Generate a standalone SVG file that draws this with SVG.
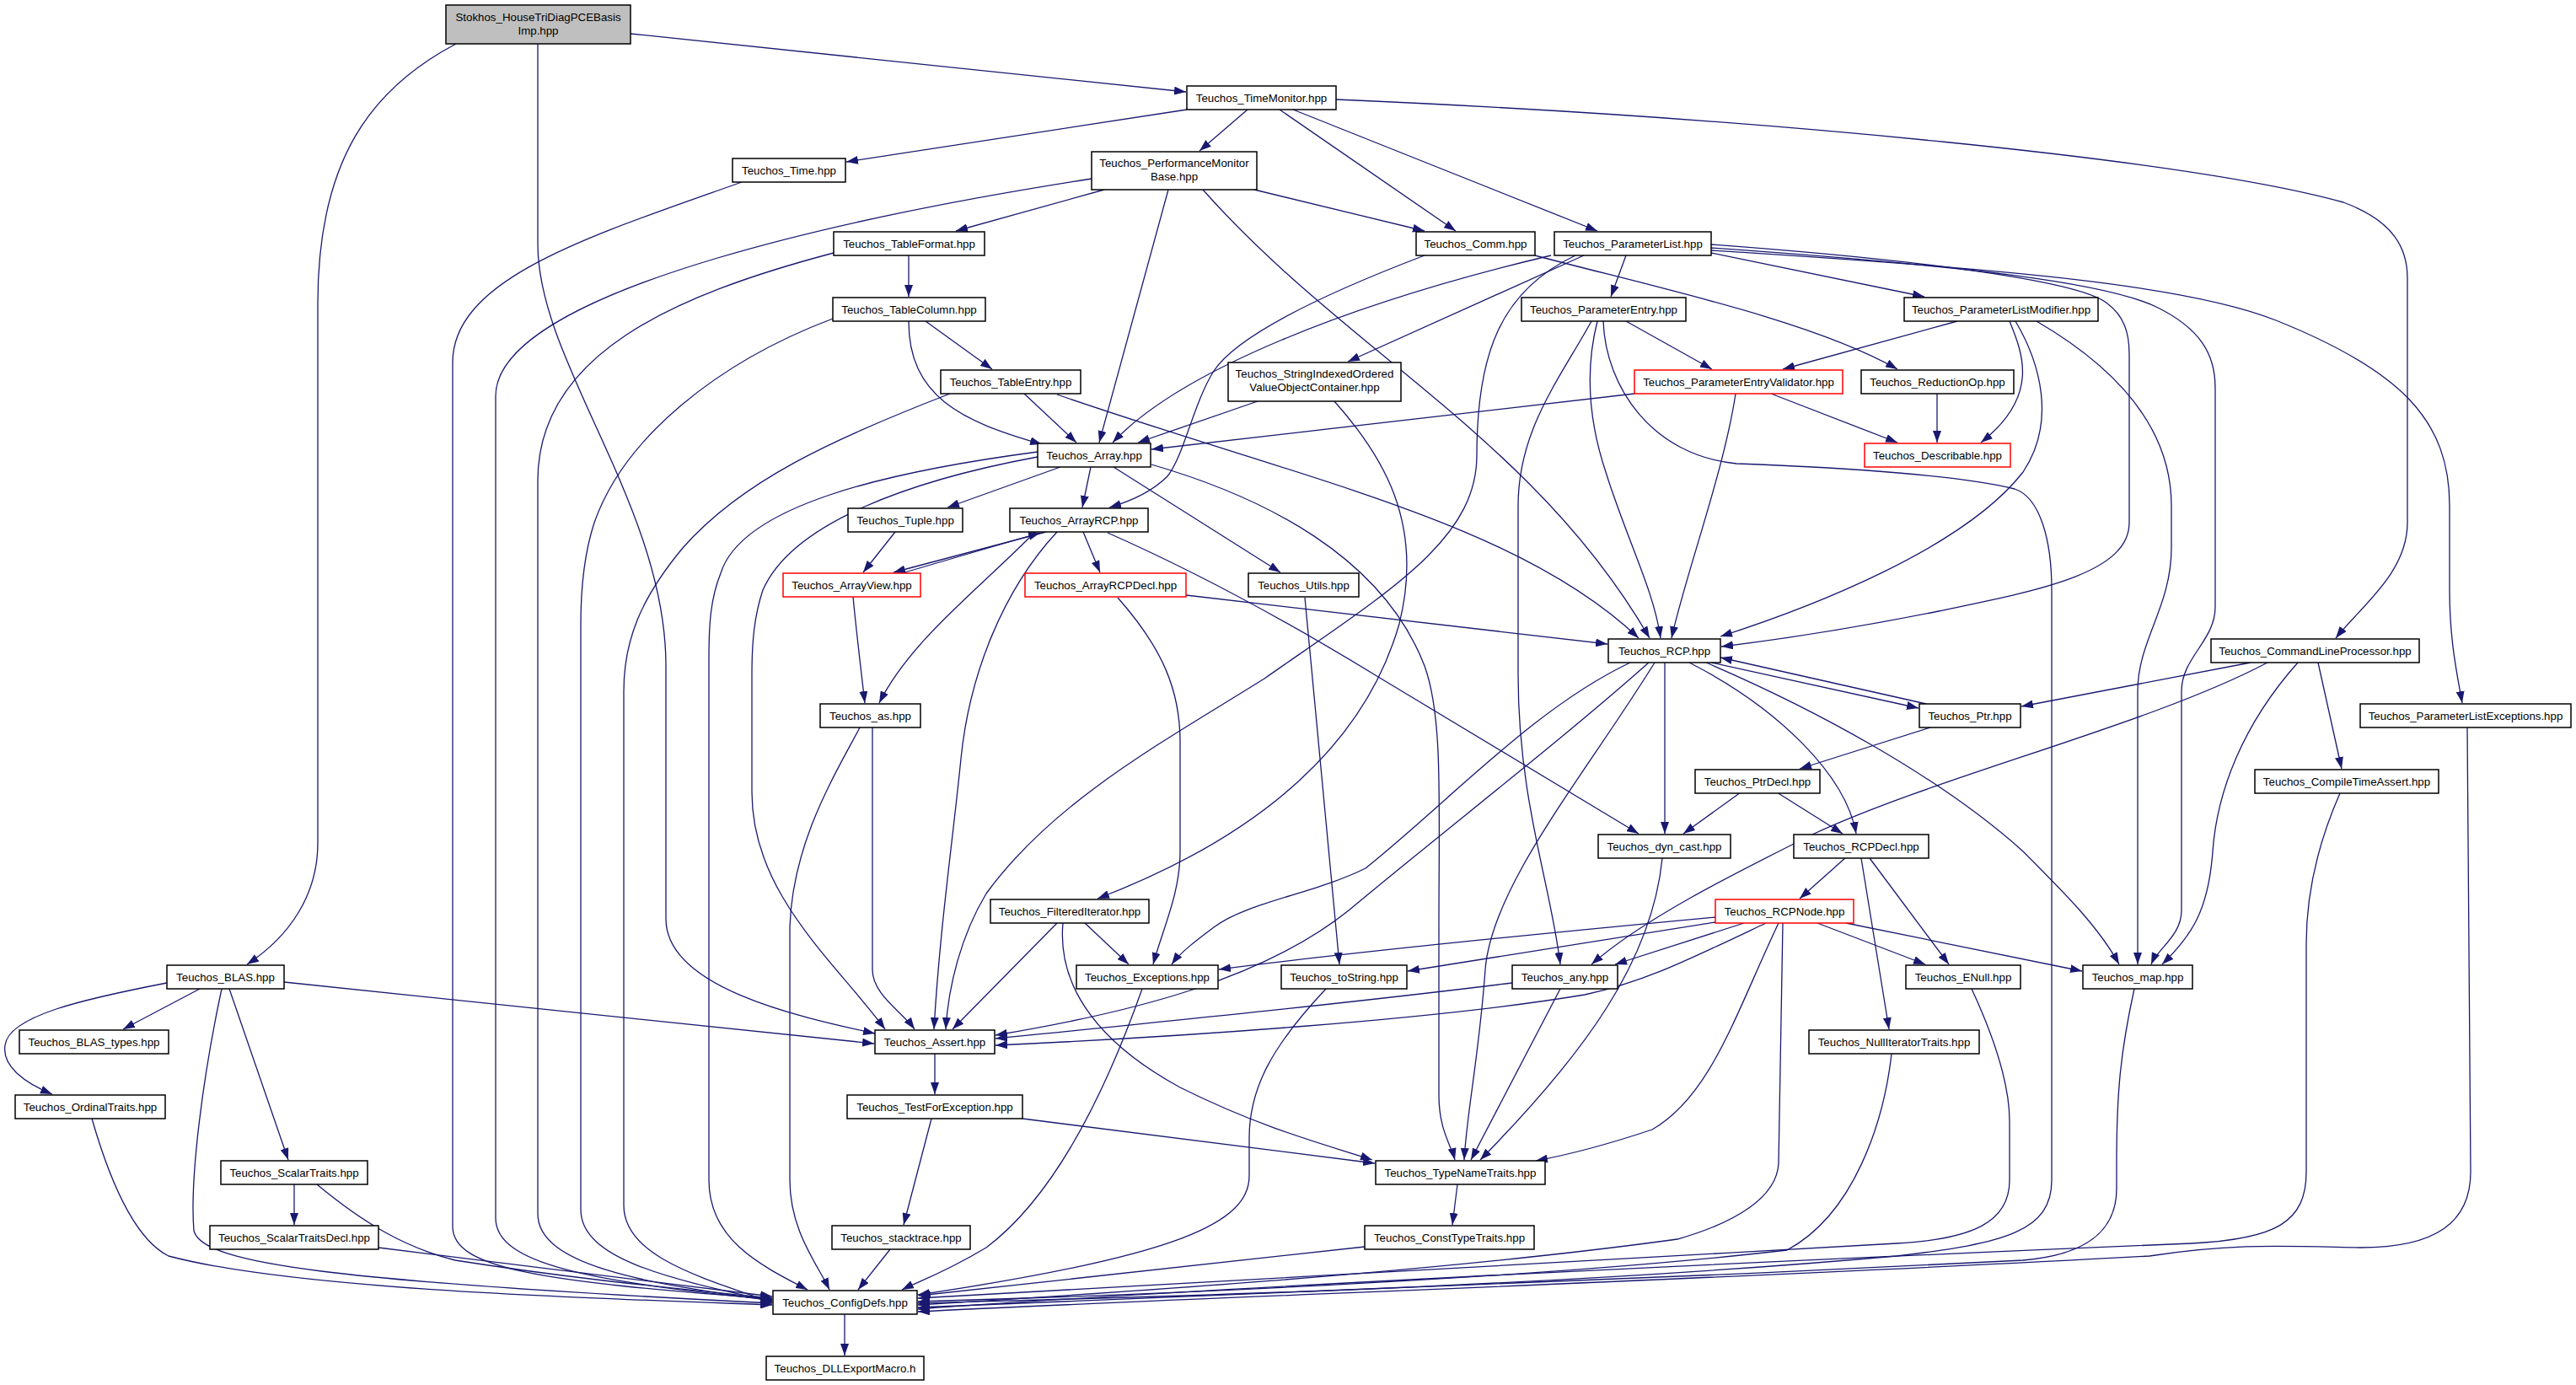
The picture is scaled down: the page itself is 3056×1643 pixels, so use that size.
<svg xmlns="http://www.w3.org/2000/svg" width="3056" height="1643" viewBox="0 0 3056 1643">
<style>
.n rect{fill:#fff;stroke:#000;stroke-width:1.5}
.n.r rect{stroke:#f00}
.n.g rect{fill:#bfbfbf}
text{font-family:"Liberation Sans",Arial,sans-serif;font-size:13.3px;text-anchor:middle;fill:#000}
.e path{fill:none;stroke:#191970;stroke-width:1.3;marker-end:url(#a)}
</style>
<defs>
<marker id="a" markerWidth="14" markerHeight="10" refX="14" refY="5" orient="auto" markerUnits="userSpaceOnUse"><path d="M0,0 L14,5 L0,10 z" fill="#191970"/></marker>
</defs>
<rect x="0" y="0" width="3056" height="1643" fill="#fff"/>
<g id="edges" class="e">
<path d="M748,40 L1407,109"/>
<path d="M541,52 C440,105 377,190 377,360 L377,1000 C377,1060 345,1110 293,1144"/>
<path d="M638,52 L638,290 C638,430 790,600 790,790 L790,1090 C790,1170 940,1205 1038,1226"/>
<path d="M1408,130 L1004,192"/>
<path d="M1480,130 L1423,179"/>
<path d="M1518,130 L1727,274"/>
<path d="M1534,130 L1895,274"/>
<path d="M1585,118 C2100,140 2600,190 2780,240 C2840,262 2856,295 2856,330 L2856,620 C2856,680 2800,720 2771,757"/>
<path d="M880,216 C700,280 537,330 537,430 L537,1455 C537,1505 640,1520 916,1541"/>
<path d="M1295,212 C1050,250 588,340 588,470 L588,1445 C588,1500 700,1520 916,1542"/>
<path d="M1310,225 L1134,274"/>
<path d="M1386,225 L1304,525"/>
<path d="M1427,225 C1600,420 1820,520 1957,757"/>
<path d="M1488,225 L1690,274"/>
<path d="M989,300 C800,350 638,420 638,570 L638,1440 C638,1500 760,1522 916,1543"/>
<path d="M1078,303 L1078,352"/>
<path d="M988,378 C850,430 740,520 705,620 C692,660 689,700 689,740 L689,1435 C689,1495 800,1518 916,1544"/>
<path d="M1098,381 L1177,438"/>
<path d="M1078,381 C1078,470 1140,500 1236,527"/>
<path d="M1127,467 C990,520 880,570 810,650 C760,710 740,760 740,820 L740,1430 C740,1490 830,1515 916,1545"/>
<path d="M1215,467 L1277,525"/>
<path d="M1254,468 C1550,570 1800,620 1944,757"/>
<path d="M1690,303 C1580,345 1470,395 1440,440 C1415,480 1405,540 1385,565 C1365,585 1340,595 1316,602"/>
<path d="M1821,303 C1960,340 2150,380 2251,438"/>
<path d="M1929,303 L1911,352"/>
<path d="M2030,300 L2283,352"/>
<path d="M1879,303 L1599,429"/>
<path d="M1840,303 C1600,360 1400,440 1320,525"/>
<path d="M1869,303 C1780,345 1752,420 1752,540 C1752,640 1650,700 1500,805 C1380,880 1250,950 1170,1060 C1140,1110 1125,1170 1122,1221"/>
<path d="M2030,290 C2300,310 2470,335 2500,360 C2520,375 2526,395 2526,420 L2526,620 C2526,680 2420,700 2300,725 C2200,745 2100,760 2042,767"/>
<path d="M2030,294 C2330,315 2500,335 2560,365 C2610,390 2628,420 2628,460 L2628,720 C2628,760 2588,780 2588,820 L2588,1080 C2588,1110 2560,1125 2552,1144"/>
<path d="M2030,297 C2400,320 2600,340 2700,380 C2850,440 2906,500 2906,600 L2906,700 C2906,760 2915,800 2921,834"/>
<path d="M1888,381 C1850,450 1801,510 1801,600 L1801,800 C1801,950 1840,1050 1851,1144"/>
<path d="M1895,381 C1880,440 1885,500 1905,560 C1930,640 1962,700 1970,757"/>
<path d="M1902,381 C1905,460 1960,540 2060,550 C2200,555 2330,565 2390,580 C2420,590 2434,640 2434,700 L2434,1400 C2434,1460 2380,1475 2250,1490 C1800,1530 1300,1540 1089,1546"/>
<path d="M1929,381 L2031,438"/>
<path d="M2322,381 L2115,438"/>
<path d="M2384,381 C2400,420 2420,470 2350,525"/>
<path d="M2391,381 C2420,430 2440,500 2400,560 C2330,650 2150,720 2041,755"/>
<path d="M2416,381 C2500,430 2576,500 2576,600 L2576,650 C2576,720 2536,760 2536,820 L2536,1144"/>
<path d="M1492,476 L1350,525"/>
<path d="M1583,476 C1640,540 1690,620 1660,740 C1620,880 1500,990 1302,1066"/>
<path d="M1939,467 L1366,533"/>
<path d="M2101,467 L2251,525"/>
<path d="M2059,467 C2045,560 2000,680 1983,757"/>
<path d="M2298,467 L2298,525"/>
<path d="M1258,554 L1124,602"/>
<path d="M1294,554 L1284,602"/>
<path d="M1321,554 L1519,679"/>
<path d="M1366,551 C1500,590 1640,660 1690,790 C1712,850 1707,950 1707,1100 L1707,1300 C1707,1340 1722,1360 1726,1376"/>
<path d="M1231,536 C1050,560 880,600 855,680 C843,710 841,740 841,780 L841,1400 C841,1470 900,1500 958,1530"/>
<path d="M1231,542 C1080,570 940,620 905,700 C895,730 892,760 892,800 L892,940 C892,1060 990,1140 1050,1221"/>
<path d="M1062,631 L1024,679"/>
<path d="M1241,631 L1060,679"/>
<path d="M1070,680 L1234,632"/>
<path d="M1012,708 C1016,750 1022,800 1026,834"/>
<path d="M1228,631 C1160,700 1080,760 1043,834"/>
<path d="M1285,631 L1305,679"/>
<path d="M1254,631 C1190,700 1150,800 1140,900 C1130,1000 1115,1100 1108,1221"/>
<path d="M1314,632 C1400,670 1500,720 1640,806 L1944,989"/>
<path d="M1407,706 L1907,764"/>
<path d="M1326,709 C1380,770 1400,820 1400,880 L1400,1010 C1400,1060 1380,1100 1368,1144"/>
<path d="M1548,709 L1589,1144"/>
<path d="M1020,863 C990,920 940,1000 937,1100 L937,1400 C937,1460 970,1500 984,1530"/>
<path d="M1035,863 L1035,1150 C1035,1180 1070,1200 1085,1221"/>
<path d="M2030,786 L2276,840"/>
<path d="M2285,835 L2041,780"/>
<path d="M1975,786 L1975,989"/>
<path d="M2004,786 C2110,840 2190,920 2202,989"/>
<path d="M2024,786 C2150,840 2300,920 2400,1010 C2450,1060 2490,1100 2514,1144"/>
<path d="M1934,786 C1820,840 1720,950 1620,1030 C1560,1060 1480,1070 1440,1100 C1420,1115 1400,1130 1390,1144"/>
<path d="M1956,786 C1850,880 1720,980 1600,1080 C1500,1160 1350,1200 1181,1228"/>
<path d="M1963,786 C1880,920 1770,1050 1762,1150 C1755,1250 1740,1320 1737,1376"/>
<path d="M2670,786 L2398,838"/>
<path d="M2690,786 C2550,860 2300,920 2150,990 C2050,1040 1950,1090 1888,1144"/>
<path d="M2726,786 C2660,860 2630,940 2625,1010 C2620,1080 2600,1110 2565,1144"/>
<path d="M2750,786 L2778,912"/>
<path d="M2290,863 L2135,912"/>
<path d="M2065,940 L1997,989"/>
<path d="M2108,940 L2186,989"/>
<path d="M2190,1017 L2135,1066"/>
<path d="M2218,1018 L2312,1144"/>
<path d="M2208,1018 L2241,1221"/>
<path d="M1287,1095 L1339,1144"/>
<path d="M1254,1095 L1130,1221"/>
<path d="M1261,1095 C1255,1160 1290,1230 1400,1290 C1500,1340 1580,1360 1628,1376"/>
<path d="M2035,1088 C1800,1110 1600,1130 1446,1150"/>
<path d="M2035,1094 L1670,1152"/>
<path d="M2069,1095 L1916,1144"/>
<path d="M2095,1095 C2000,1140 1950,1165 1880,1180 C1700,1210 1400,1230 1181,1240"/>
<path d="M2110,1095 C2060,1200 2030,1300 1960,1340 C1900,1360 1860,1370 1822,1377"/>
<path d="M2115,1095 L2110,1380 C2108,1420 2060,1450 1990,1470 C1700,1510 1300,1535 1089,1548"/>
<path d="M2156,1095 L2284,1144"/>
<path d="M2190,1095 L2470,1152"/>
<path d="M1355,1173 C1310,1300 1250,1420 1170,1480 C1120,1510 1090,1520 1070,1530"/>
<path d="M1573,1173 C1510,1240 1482,1290 1482,1350 L1482,1395 C1482,1450 1400,1490 1089,1536"/>
<path d="M1794,1166 C1600,1190 1400,1210 1181,1232"/>
<path d="M1851,1173 L1745,1376"/>
<path d="M1972,1018 C1960,1140 1880,1250 1756,1376"/>
<path d="M2339,1173 C2370,1240 2384,1290 2384,1330 L2384,1400 C2384,1450 2340,1470 2250,1475 C1800,1500 1300,1530 1089,1540"/>
<path d="M2244,1250 C2235,1330 2200,1440 2120,1483 C1800,1520 1300,1538 1089,1544"/>
<path d="M2532,1173 C2515,1250 2511,1300 2511,1380 L2511,1410 C2511,1470 2460,1490 2400,1495 C1900,1520 1300,1545 1089,1551"/>
<path d="M2776,941 C2750,1000 2736,1060 2736,1120 L2736,1390 C2736,1450 2700,1470 2600,1475 C2000,1500 1400,1530 1089,1553"/>
<path d="M2927,863 L2931,1390 C2931,1450 2890,1480 2800,1480 C2700,1478 2650,1475 2550,1490 C2000,1520 1400,1540 1089,1556"/>
<path d="M1619,1479 L1090,1537"/>
<path d="M1729,1405 L1723,1453"/>
<path d="M1213,1327 L1631,1380"/>
<path d="M1105,1327 L1072,1453"/>
<path d="M1109,1250 L1109,1298"/>
<path d="M1056,1482 L1018,1530"/>
<path d="M1002,1559 L1002,1608"/>
<path d="M237,1173 L146,1221"/>
<path d="M198,1166 C100,1185 10,1205 6,1240 C2,1265 30,1285 62,1298"/>
<path d="M272,1173 L342,1376"/>
<path d="M263,1173 C240,1280 225,1400 230,1460 C240,1500 400,1520 916,1546"/>
<path d="M337,1165 L1037,1238"/>
<path d="M109,1327 C130,1400 160,1470 200,1490 C350,1530 700,1540 916,1548"/>
<path d="M349,1405 L349,1453"/>
<path d="M376,1405 C430,1450 480,1480 540,1495 C700,1520 820,1530 916,1540"/>
<path d="M449,1480 L916,1538"/>
</g>
<g id="n1" class="n g"><rect x="529" y="6" width="219" height="46"/><text x="638.5" y="25">Stokhos_HouseTriDiagPCEBasis</text><text x="638.5" y="41">Imp.hpp</text></g>
<g id="n2" class="n"><rect x="1408" y="102" width="177" height="28"/><text x="1496.5" y="121">Teuchos_TimeMonitor.hpp</text></g>
<g id="n3" class="n"><rect x="869" y="188" width="134" height="28"/><text x="936" y="207">Teuchos_Time.hpp</text></g>
<g id="n4" class="n"><rect x="1295" y="180" width="196" height="45"/><text x="1393" y="198">Teuchos_PerformanceMonitor</text><text x="1393" y="214">Base.hpp</text></g>
<g id="n5" class="n"><rect x="989" y="275" width="179" height="28"/><text x="1078.5" y="294">Teuchos_TableFormat.hpp</text></g>
<g id="n6" class="n"><rect x="1680" y="275" width="141" height="28"/><text x="1750.5" y="294">Teuchos_Comm.hpp</text></g>
<g id="n7" class="n"><rect x="1844" y="275" width="186" height="28"/><text x="1937" y="294">Teuchos_ParameterList.hpp</text></g>
<g id="n8" class="n"><rect x="988" y="353" width="181" height="28"/><text x="1078.5" y="372">Teuchos_TableColumn.hpp</text></g>
<g id="n9" class="n"><rect x="1805" y="353" width="195" height="28"/><text x="1902.5" y="372">Teuchos_ParameterEntry.hpp</text></g>
<g id="n10" class="n"><rect x="2259" y="353" width="230" height="28"/><text x="2374" y="372">Teuchos_ParameterListModifier.hpp</text></g>
<g id="n11" class="n"><rect x="1116" y="439" width="166" height="28"/><text x="1199" y="458">Teuchos_TableEntry.hpp</text></g>
<g id="n12" class="n"><rect x="1457" y="430" width="205" height="46"/><text x="1559.5" y="448">Teuchos_StringIndexedOrdered</text><text x="1559.5" y="464">ValueObjectContainer.hpp</text></g>
<g id="n13" class="n r"><rect x="1939" y="439" width="247" height="28"/><text x="2062.5" y="458">Teuchos_ParameterEntryValidator.hpp</text></g>
<g id="n14" class="n"><rect x="2208" y="439" width="181" height="28"/><text x="2298.5" y="458">Teuchos_ReductionOp.hpp</text></g>
<g id="n15" class="n"><rect x="1231" y="526" width="134" height="28"/><text x="1298" y="545">Teuchos_Array.hpp</text></g>
<g id="n16" class="n r"><rect x="2212" y="526" width="173" height="28"/><text x="2298.5" y="545">Teuchos_Describable.hpp</text></g>
<g id="n17" class="n"><rect x="1006" y="603" width="136" height="28"/><text x="1074" y="622">Teuchos_Tuple.hpp</text></g>
<g id="n18" class="n"><rect x="1198" y="603" width="164" height="28"/><text x="1280" y="622">Teuchos_ArrayRCP.hpp</text></g>
<g id="n19" class="n r"><rect x="929" y="680" width="163" height="28"/><text x="1010.5" y="699">Teuchos_ArrayView.hpp</text></g>
<g id="n20" class="n r"><rect x="1216" y="680" width="191" height="28"/><text x="1311.5" y="699">Teuchos_ArrayRCPDecl.hpp</text></g>
<g id="n21" class="n"><rect x="1481" y="680" width="131" height="28"/><text x="1546.5" y="699">Teuchos_Utils.hpp</text></g>
<g id="n22" class="n"><rect x="1908" y="758" width="133" height="28"/><text x="1974.5" y="777">Teuchos_RCP.hpp</text></g>
<g id="n23" class="n"><rect x="2623" y="758" width="247" height="28"/><text x="2746.5" y="777">Teuchos_CommandLineProcessor.hpp</text></g>
<g id="n24" class="n"><rect x="973" y="835" width="119" height="28"/><text x="1032.5" y="854">Teuchos_as.hpp</text></g>
<g id="n25" class="n"><rect x="2277" y="835" width="120" height="28"/><text x="2337" y="854">Teuchos_Ptr.hpp</text></g>
<g id="n26" class="n"><rect x="2800" y="835" width="250" height="28"/><text x="2925" y="854">Teuchos_ParameterListExceptions.hpp</text></g>
<g id="n27" class="n"><rect x="2011" y="913" width="148" height="28"/><text x="2085" y="932">Teuchos_PtrDecl.hpp</text></g>
<g id="n28" class="n"><rect x="2675" y="913" width="218" height="28"/><text x="2784" y="932">Teuchos_CompileTimeAssert.hpp</text></g>
<g id="n29" class="n"><rect x="1896" y="990" width="157" height="28"/><text x="1974.5" y="1009">Teuchos_dyn_cast.hpp</text></g>
<g id="n30" class="n"><rect x="2128" y="990" width="160" height="28"/><text x="2208" y="1009">Teuchos_RCPDecl.hpp</text></g>
<g id="n31" class="n"><rect x="1175" y="1067" width="188" height="28"/><text x="1269" y="1086">Teuchos_FilteredIterator.hpp</text></g>
<g id="n32" class="n r"><rect x="2035" y="1067" width="164" height="28"/><text x="2117" y="1086">Teuchos_RCPNode.hpp</text></g>
<g id="n33" class="n"><rect x="198" y="1145" width="139" height="28"/><text x="267.5" y="1164">Teuchos_BLAS.hpp</text></g>
<g id="n34" class="n"><rect x="1277" y="1145" width="168" height="28"/><text x="1361" y="1164">Teuchos_Exceptions.hpp</text></g>
<g id="n35" class="n"><rect x="1520" y="1145" width="149" height="28"/><text x="1594.5" y="1164">Teuchos_toString.hpp</text></g>
<g id="n36" class="n"><rect x="1794" y="1145" width="125" height="28"/><text x="1856.5" y="1164">Teuchos_any.hpp</text></g>
<g id="n37" class="n"><rect x="2261" y="1145" width="136" height="28"/><text x="2329" y="1164">Teuchos_ENull.hpp</text></g>
<g id="n38" class="n"><rect x="2471" y="1145" width="130" height="28"/><text x="2536" y="1164">Teuchos_map.hpp</text></g>
<g id="n39" class="n"><rect x="23" y="1222" width="177" height="28"/><text x="111.5" y="1241">Teuchos_BLAS_types.hpp</text></g>
<g id="n40" class="n"><rect x="1038" y="1222" width="142" height="28"/><text x="1109" y="1241">Teuchos_Assert.hpp</text></g>
<g id="n41" class="n"><rect x="2146" y="1222" width="202" height="28"/><text x="2247" y="1241">Teuchos_NullIteratorTraits.hpp</text></g>
<g id="n42" class="n"><rect x="18" y="1299" width="178" height="28"/><text x="107" y="1318">Teuchos_OrdinalTraits.hpp</text></g>
<g id="n43" class="n"><rect x="1005" y="1299" width="208" height="28"/><text x="1109" y="1318">Teuchos_TestForException.hpp</text></g>
<g id="n44" class="n"><rect x="262" y="1377" width="174" height="28"/><text x="349" y="1396">Teuchos_ScalarTraits.hpp</text></g>
<g id="n45" class="n"><rect x="1632" y="1377" width="201" height="28"/><text x="1732.5" y="1396">Teuchos_TypeNameTraits.hpp</text></g>
<g id="n46" class="n"><rect x="249" y="1454" width="200" height="28"/><text x="349" y="1473">Teuchos_ScalarTraitsDecl.hpp</text></g>
<g id="n47" class="n"><rect x="987" y="1454" width="164" height="28"/><text x="1069" y="1473">Teuchos_stacktrace.hpp</text></g>
<g id="n48" class="n"><rect x="1619" y="1454" width="201" height="28"/><text x="1719.5" y="1473">Teuchos_ConstTypeTraits.hpp</text></g>
<g id="n49" class="n"><rect x="917" y="1531" width="171" height="28"/><text x="1002.5" y="1550">Teuchos_ConfigDefs.hpp</text></g>
<g id="n50" class="n"><rect x="909" y="1609" width="187" height="28"/><text x="1002.5" y="1628">Teuchos_DLLExportMacro.h</text></g>
</svg>
